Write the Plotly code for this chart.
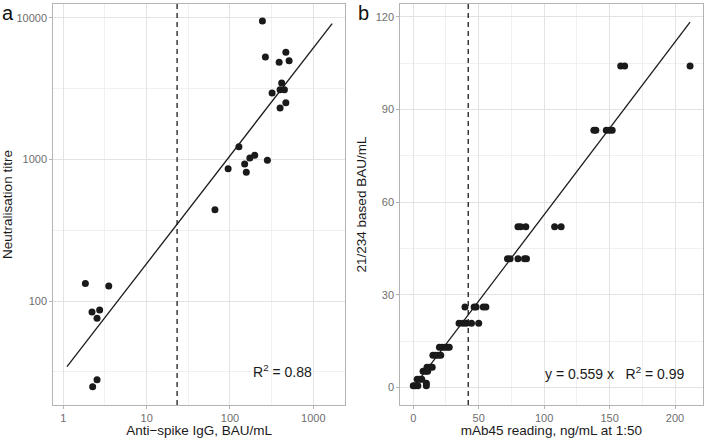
import numpy as np
import plotly.graph_objects as go

# ---------------- Panel a data ----------------
a_igg = [245, 266, 468, 389, 512, 417, 320, 399, 450, 399, 468,
         128, 198, 173, 281, 150, 157, 95, 66,
         1.84, 3.51, 2.21, 2.73, 2.54, 2.54, 2.25]
a_titre = [9480, 5280, 5700, 4860, 4980, 3460, 2940, 3100, 3100, 2305, 2513,
           1230, 1069, 1023, 986, 929, 811, 859, 442,
           133, 128, 83.8, 86.5, 75.7, 27.9, 24.9]
a_fit_slope = 0.761      # log10-log10 regression
a_fit_intercept = 1.504
a_fit_x = [1.107, 1682]
a_threshold = 23.2
a_r2 = "R<sup>2</sup> = 0.88"

# ---------------- Panel b data ----------------
b_mab45 = [158.5, 161.5, 211.5,
           138, 139.5, 147.5, 150, 152,
           80, 82, 86, 108, 113,
           72, 74, 80, 85, 86.5,
           39.5, 46.5, 48, 53.5, 55.5,
           35, 38, 40.5, 44.5, 50,
           20, 22, 24, 26, 27.5,
           15, 17, 19, 21,
           10.5, 12.5, 14.5,
           7.5, 9.5, 11,
           3, 5, 6.5,
           10,
           0, 1.5, 3.5, 10]
b_bau = [104, 104, 104,
         83.2, 83.2, 83.2, 83.2, 83.2,
         52, 52, 52, 52, 52,
         41.6, 41.6, 41.6, 41.6, 41.6,
         26, 26, 26, 26, 26,
         20.8, 20.8, 20.8, 20.8, 20.8,
         13, 13, 13, 13, 13,
         10.4, 10.4, 10.4, 10.4,
         6.5, 6.5, 6.5,
         5.2, 5.2, 5.2,
         2.6, 2.6, 2.6,
         1.3,
         0.5, 0.5, 0.5, 0.5]
b_fit_slope = 0.559
b_threshold = 42
b_label = "y = 0.559 x   R<sup>2</sup> = 0.99"

a_xticks = [1, 10, 100, 1000]
a_yticks = [100, 1000, 10000]
b_xticks = [0, 50, 100, 150, 200]
b_yticks = [0, 30, 60, 90, 120]

# ---------------- Figure ----------------
FONT = "Liberation Sans, Arial, sans-serif"
PT_COL = "#1a1a1a"
GRID = "#e3e3e3"
MINOR = "#f0f0f0"
BORDER = "#b3b3b3"
TICKCOL = "#6e6e6e"
TITLECOL = "#1a1a1a"

fig = go.Figure()

# panel a fit line
fx = np.array(a_fit_x)
fy = 10 ** (a_fit_intercept + a_fit_slope * np.log10(fx))
fig.add_trace(go.Scatter(x=fx, y=fy, mode="lines", line=dict(color="#1a1a1a", width=1.3),
                         xaxis="x", yaxis="y", showlegend=False, hoverinfo="skip"))
fig.add_trace(go.Scatter(x=a_igg, y=a_titre, mode="markers",
                         marker=dict(color=PT_COL, size=7),
                         xaxis="x", yaxis="y", showlegend=False))

# panel b fit line
bx = np.array([0, max(b_mab45)])
fig.add_trace(go.Scatter(x=bx, y=b_fit_slope * bx, mode="lines",
                         line=dict(color="#1a1a1a", width=1.3),
                         xaxis="x2", yaxis="y2", showlegend=False, hoverinfo="skip"))
fig.add_trace(go.Scatter(x=b_mab45, y=b_bau, mode="markers",
                         marker=dict(color=PT_COL, size=7),
                         xaxis="x2", yaxis="y2", showlegend=False))

# threshold lines
fig.add_shape(type="line", xref="x", yref="y domain", x0=a_threshold, x1=a_threshold,
              y0=0, y1=1, line=dict(color="#1a1a1a", width=1.3, dash="5px,4px"))
fig.add_shape(type="line", xref="x2", yref="y2 domain", x0=b_threshold, x1=b_threshold,
              y0=0, y1=1, line=dict(color="#1a1a1a", width=1.3, dash="5px,4px"))

common = dict(showline=True, linecolor=BORDER, linewidth=1, mirror=True,
              gridcolor=GRID, gridwidth=1, zeroline=False,
              ticks="outside", ticklen=3, tickcolor=BORDER, tickwidth=1,
              tickfont=dict(family=FONT, size=11, color=TICKCOL),
              automargin=False)

TFONT = dict(size=13.5, family=FONT, color=TITLECOL)
ya_dom = [1 - 405 / 438, 1 - 4 / 438]
fig.update_layout(
    width=704, height=438,
    margin=dict(l=0, r=0, t=0, b=0),
    paper_bgcolor="white", plot_bgcolor="white",
    font=dict(family=FONT, color=TITLECOL),
    xaxis=dict(type="log", domain=[53.3 / 704, 345 / 704], range=[-0.12, 3.38],
               tickvals=a_xticks, ticktext=[str(v) for v in a_xticks],
               minor=dict(tickvals=[10 ** 0.5, 10 ** 1.5, 10 ** 2.5], showgrid=True,
                          gridcolor=MINOR, ticks=""),
               title=dict(text="Anti\u2212spike IgG, BAU/mL", font=TFONT, standoff=4),
               anchor="y", **common),
    yaxis=dict(type="log", domain=ya_dom, range=[1.267, 4.097],
               tickvals=a_yticks, ticktext=[str(v) for v in a_yticks],
               minor=dict(tickvals=[10 ** 1.5, 10 ** 2.5, 10 ** 3.5], showgrid=True,
                          gridcolor=MINOR, ticks=""),
               title=dict(text="Neutralisation titre", font=TFONT, standoff=6),
               anchor="x", **common),
    xaxis2=dict(domain=[400.3 / 704, 702.5 / 704], range=[-9.9, 221],
                tickvals=b_xticks,
                minor=dict(dtick=25, tick0=25, showgrid=True, gridcolor=MINOR, ticks=""),
                title=dict(text="mAb45 reading, ng/mL at 1:50", font=TFONT, standoff=4),
                anchor="y2", **common),
    yaxis2=dict(domain=ya_dom, range=[-5.7, 124.1],
                tickvals=b_yticks,
                minor=dict(dtick=15, tick0=15, showgrid=True, gridcolor=MINOR, ticks=""),
                title=dict(text="21/234 based BAU/mL", font=TFONT, standoff=6),
                anchor="x2", **common),
)

fig.add_annotation(text=a_r2, xref="x domain", yref="y domain", x=0.787, y=0.085,
                   xanchor="center", yanchor="middle",
                   showarrow=False, font=dict(size=14, family=FONT, color=TITLECOL))
fig.add_annotation(text=b_label, xref="x2 domain", yref="y2 domain", x=0.71, y=0.079,
                   xanchor="center", yanchor="middle",
                   showarrow=False, font=dict(size=14, family=FONT, color=TITLECOL))
fig.add_annotation(text="a", xref="paper", yref="paper", x=0.0, y=1.0, xanchor="left", yanchor="top",
                   showarrow=False, font=dict(size=20, family=FONT, color="#111"))
fig.add_annotation(text="b", xref="paper", yref="paper", x=356 / 704, y=1.0, xanchor="left", yanchor="top",
                   showarrow=False, font=dict(size=20, family=FONT, color="#111"))

fig.write_html("out.html", config={"displayModeBar": False},
               post_script="document.body.style.margin='0';document.body.style.padding='0';")
